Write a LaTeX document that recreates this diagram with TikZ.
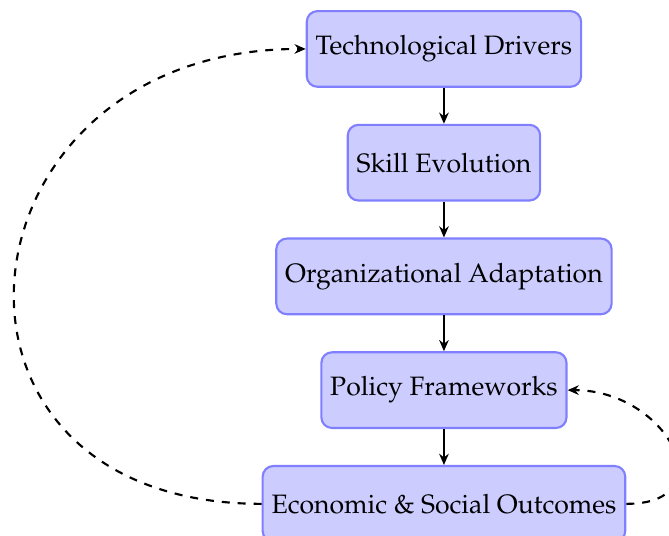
\documentclass[tikz,border=0pt]{standalone}
\usepackage[T1]{fontenc}
\usepackage{mathpazo}
\usepackage{tikz}
\usetikzlibrary{shapes}
\usetikzlibrary{arrows.meta}
\usetikzlibrary{positioning}

\begin{document}
\begin{tikzpicture}[x=1pt,y=1pt,
  stage/.style={rectangle, rounded corners, draw=blue!50, fill=blue!20, thick, minimum height=1cm},
  link/.style={-{Stealth[length=4.2pt,width=3.6pt]}, thick}]
\useasboundingbox (-166.9,-183.3) rectangle (84.6,17.9);
\clip (-166.9,-183.3) rectangle (84.6,17.9);
\node[stage] (tech) at (0,-0.5) {Technological Drivers};
\node[stage, below=13.5pt of tech] (skill) {Skill Evolution};
\node[stage, below=13.5pt of skill] (org) {Organizational Adaptation};
\node[stage, below=13.5pt of org] (policy) {Policy Frameworks};
\node[stage, below=13.5pt of policy] (outcomes) {Economic \& Social Outcomes};
\draw[link] (tech) -- (skill);
\draw[link] (skill) -- (org);
\draw[link] (org) -- (policy);
\draw[link] (policy) -- (outcomes);
% feedback loops
\draw[link, dashed] (outcomes.west) to[out=180, in=180, looseness=2] (tech.west);
\draw[link, dashed] (outcomes.east) to[out=0, in=0, looseness=2] (policy.east);
\end{tikzpicture}
\end{document}
